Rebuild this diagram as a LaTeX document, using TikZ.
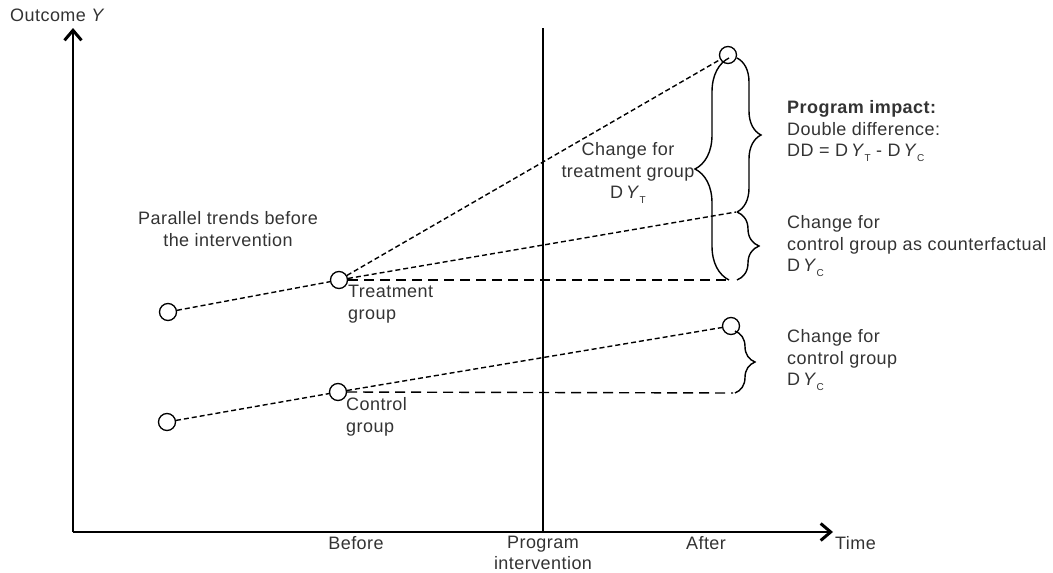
\documentclass[tikz,border=0pt]{standalone}
\usepackage{fontspec}
\setmainfont{Liberation Sans}[LetterSpace=2.5]
\usetikzlibrary{arrows.meta,decorations.pathreplacing}
\newcommand\lowsub[1]{\raisebox{-0.45ex}{\fontsize{10}{10}\selectfont #1}}
\begin{document}
\begin{tikzpicture}[x=1pt,y=-1pt,
  every node/.style={font=\fontsize{18}{21.5}\selectfont, text=black!80, inner sep=0pt},
  pt/.style={circle, draw=black, fill=white, line width=1.3pt, minimum size=17pt},
  axis/.style={line width=1.9pt, -{Straight Barb[length=10pt,width=17pt,line width=3pt]}},
  shortdash/.style={line width=1.4pt, dash pattern=on 5pt off 3pt},
  longdash/.style={line width=1.4pt, dash pattern=on 10pt off 6pt},
  brc/.style={line width=1.4pt, decorate, decoration={brace, amplitude=#1}},
  lbl/.style={anchor=west, align=left}
]
\useasboundingbox (0,0) rectangle (1053,573);
% axes
\coordinate (O) at (73,532);
\coordinate (Ytip) at (73,28);
\coordinate (Xtip) at (833,532);
\coordinate (Ptop) at (543,28);
\coordinate (Pbot) at (543,532);
\draw[axis] (O) -- (Ytip);
\draw[axis] (O) -- (Xtip);
\draw[line width=1.5pt] (Ptop) -- (Pbot);
\node[anchor=west] (ylab) at (10,15) {Outcome \textit{Y}};
\node[anchor=west] (xlab) at (835,543) {Time};
\node (before) at (356,543) {Before};
\node[align=center] (prog) at (543,553) {Program\\intervention};
\node (after) at (706,543) {After};
% points
\node[pt] (T0) at (168,312) {};
\node[pt] (T1) at (339,280) {};
\node[pt] (T2) at (728,55) {};
\node[pt] (C0) at (167,422) {};
\node[pt] (C1) at (338,392) {};
\node[pt] (C2) at (731,326) {};
\coordinate (cf) at (736,212);
\coordinate (hT) at (731,280);
\coordinate (hC) at (733,393);
\coordinate (bTtop) at (729,58);
\coordinate (bTbot) at (729,280);
\coordinate (r1top) at (737,58);
\coordinate (r1bot) at (737,212);
\coordinate (r2top) at (737,212);
\coordinate (r2bot) at (737,280);
\coordinate (r3top) at (735,331);
\coordinate (r3bot) at (735,393);
% lines
\draw[shortdash] (T0) -- (T1);
\draw[shortdash] (T1) -- (T2);
\draw[shortdash] (T1) -- (cf);
\draw[longdash] (T1.east) -- (hT);
\draw[shortdash] (C0) -- (C1);
\draw[shortdash] (C1) -- (C2);
\draw[longdash] (C1.east) -- (hC);
% braces
\draw[brc=34pt] (bTbot) -- (bTtop);
\draw[brc=24pt] (r1top) -- (r1bot);
\draw[brc=22pt] (r2top) -- (r2bot);
\draw[brc=20pt] (r3top) -- (r3bot);
% labels
\node[align=center] (par) at (228,229) {Parallel trends before\\the intervention};
\node[lbl] (tg) at (348,304) {Treatment\\group};
\node[lbl] (cg) at (346,417) {Control\\group};
\node[align=center] (chT) at (628,173) {Change for\\treatment group\\D\,\textit{Y}\lowsub{T}};
\node[lbl] (imp) at (787,131) {\textbf{Program impact:}\\Double difference:\\DD = D\,\textit{Y}\lowsub{T} - D\,\textit{Y}\lowsub{C}};
\node[lbl] (cf1) at (787,246) {Change for\\control group as counterfactual\\D\,\textit{Y}\lowsub{C}};
\node[lbl] (cf2) at (787,360) {Change for\\control group\\D\,\textit{Y}\lowsub{C}};
\end{tikzpicture}
\end{document}
